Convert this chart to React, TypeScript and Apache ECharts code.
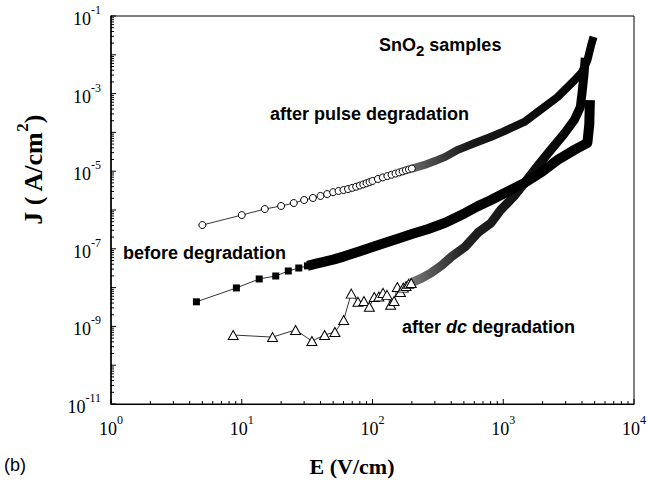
import React, { useEffect, useRef } from 'react';
import * as echarts from 'echarts';

// after pulse degradation (open circles)
const pulseE = [5, 10, 15, 20, 25, 30, 35, 40, 45, 50, 55, 60, 65, 70, 75, 80, 85, 90, 95, 100,
  110, 120, 130, 140, 150, 160, 170, 180, 190, 200, 250, 300, 360, 450, 600, 800, 1000, 1450,
  2000, 2600, 3500, 4000, 4400, 4700, 4900];
const pulseJ = [4.1e-7, 7.4e-7, 1.06e-6, 1.27e-6, 1.51e-6, 1.81e-6, 2.04e-6, 2.3e-6, 2.57e-6, 2.88e-6,
  3.09e-6, 3.27e-6, 3.47e-6, 3.72e-6, 3.98e-6, 4.27e-6, 4.57e-6, 4.9e-6, 5.25e-6, 5.6e-6,
  6.3e-6, 6.9e-6, 7.5e-6, 8.1e-6, 8.7e-6, 9.3e-6, 9.9e-6, 1.05e-5, 1.11e-5, 1.17e-5,
  1.45e-5, 1.82e-5, 2.34e-5, 3.55e-5, 5.25e-5, 7.6e-5, 1.05e-4, 1.86e-4,
  4.2e-4, 8.1e-4, 2.19e-3, 3.55e-3, 7.2e-3, 1.78e-2, 2.9e-2];

// before degradation (filled squares)
const beforeE = [4.5, 9.1, 13.6, 18.2, 22.7, 27.3, 31.8, 36.4, 40.9, 45.5, 50, 60, 80, 111, 160, 200,
  267, 360, 509, 640, 800, 1000, 1456, 2000, 2600, 3500, 4400, 4550, 4600];
const beforeJ = [4.3e-9, 9.8e-9, 1.67e-8, 1.99e-8, 2.68e-8, 3.2e-8, 3.63e-8, 4.07e-8, 4.47e-8, 4.9e-8,
  5.25e-8, 6.3e-8, 8.7e-8, 1.26e-7, 1.86e-7, 2.4e-7, 3.24e-7, 4.7e-7, 8.3e-7, 1.26e-6, 1.78e-6,
  2.63e-6, 5.0e-6, 1.0e-5, 1.95e-5, 3.55e-5, 5.4e-5, 1.6e-4, 6.8e-4];

// after dc degradation (open triangles)
const dcE = [8.6, 17.2, 25.8, 34.4, 43, 51.6, 60.2, 68.8, 77.4, 86, 94.6, 103.2, 111.8, 120.4, 129,
  137.6, 146.2, 154.8, 163.4, 172, 180.6, 189.2, 197.8, 240, 281, 340, 400, 510, 640, 804, 955,
  1200, 1456, 1800, 2300, 2900, 3500, 3885, 4000, 4150, 4237];
const dcJ = [6.0e-10, 5.3e-10, 8.1e-10, 4.2e-10, 6.0e-10, 7.2e-10, 1.46e-9, 7.0e-9, 4.3e-9, 4.5e-9,
  3.2e-9, 5.7e-9, 5.9e-9, 7.3e-9, 6.5e-9, 3.6e-9, 4.5e-9, 1.04e-8, 7.7e-9, 1.0e-8, 1.1e-8, 1.25e-8,
  1.32e-8, 1.78e-8, 2.4e-8, 3.8e-8, 6.2e-8, 1.12e-7, 2.6e-7, 4.6e-7, 1.0e-6, 2.2e-6, 5.0e-6,
  1.26e-5, 3.5e-5, 8.9e-5, 2.1e-4, 4.5e-4, 1.0e-3, 3.2e-3, 8.3e-3];

const xLabelExps = [0, 1, 2, 3, 4];
const yLabelExps = [-11, -9, -7, -5, -3, -1];

const SERIF = '"Liberation Serif", "Times New Roman", serif';
const SANS = '"Liberation Sans", Arial, sans-serif';

function pairs(E: number[], J: number[], lo: number, hi: number) {
  const out: number[][] = [];
  for (let i = 0; i < E.length; i++) if (E[i] >= lo && E[i] <= hi) out.push([E[i], J[i]]);
  return out;
}

const minorX: number[] = [];
for (let d = 0; d < 4; d++) for (let m = 2; m <= 9; m++) minorX.push(m * Math.pow(10, d));
const minorY: number[] = [];
for (let d = -11; d < -1; d++) for (let m = 2; m <= 9; m++) minorY.push(m * Math.pow(10, d));
const majorY: number[] = [];
for (let d = -11; d <= -1; d++) majorY.push(Math.pow(10, d));
const majorX: number[] = [];
for (let d = 0; d <= 4; d++) majorX.push(Math.pow(10, d));

const tickRich = {
  b: { fontFamily: SERIF, fontSize: 18, fill: '#000', color: '#000', lineHeight: 24, verticalAlign: 'bottom' },
  s: { fontFamily: SERIF, fontSize: 12, fill: '#000', color: '#000', lineHeight: 12, verticalAlign: 'top' },
};

function expOf(v: number) {
  return Math.round(Math.log10(v));
}

function grad(c0: string, c1: string) {
  return {
    type: 'linear', x: 0, y: 0, x2: 1, y2: 0,
    colorStops: [{ offset: 0, color: c0 }, { offset: 0.3, color: c1 }, { offset: 1, color: '#000' }],
  };
}

export default function App() {
  const ref = useRef<HTMLDivElement>(null);
  useEffect(() => {
    if (!ref.current) return;
    const chart = echarts.init(ref.current, null, { renderer: 'svg' });
    const tickSeries = (vals: number[], axis: 'x' | 'y', len: number) => ({
      type: 'custom',
      silent: true,
      z: 10,
      clip: false,
      data: vals.map((v) => (axis === 'x' ? [v, 1e-11] : [1, v])),
      encode: { x: 0, y: 1 },
      renderItem: (_p: any, api: any) => {
        const p = api.coord([api.value(0), api.value(1)]);
        return {
          type: 'line',
          shape: axis === 'x'
            ? { x1: p[0], y1: p[1], x2: p[0], y2: p[1] - len }
            : { x1: p[0], y1: p[1], x2: p[0] + len, y2: p[1] },
          style: { stroke: '#000', lineWidth: 1 },
        };
      },
    });
    const yLabelSeries = {
      type: 'custom',
      silent: true,
      z: 10,
      clip: false,
      data: yLabelExps.map((e) => [1, Math.pow(10, e), e]),
      encode: { x: 0, y: 1 },
      renderItem: (_p: any, api: any) => {
        const p = api.coord([api.value(0), api.value(1)]);
        return {
          type: 'text',
          x: p[0] - 10,
          y: p[1],
          style: {
            text: `{b|10}{s|${api.value(2)}}`,
            rich: tickRich,
            align: 'right',
            verticalAlign: 'middle',
          },
        };
      },
    };
    chart.setOption({
      animation: false,
      backgroundColor: '#fff',
      grid: { left: 111, right: 12, top: 16, bottom: 81, show: true, borderColor: '#000', borderWidth: 1, backgroundColor: 'transparent' },
      xAxis: {
        type: 'log', logBase: 10, min: 1, max: 10000,
        axisLine: { lineStyle: { color: '#000', width: 1 } },
        axisTick: { show: false },
        splitLine: { show: false },
        axisLabel: {
          margin: 10,
          formatter: (v: number) => {
            const e = expOf(v);
            return xLabelExps.includes(e) ? `{b|10}{s|${e}}` : '';
          },
          rich: tickRich,
        },
      },
      yAxis: {
        type: 'log', logBase: 10, min: 1e-11, max: 1e-1,
        axisLine: { lineStyle: { color: '#000', width: 1.5 } },
        axisTick: { show: false },
        splitLine: { show: false },
        axisLabel: { show: false },
      },
      series: [
        tickSeries(minorX, 'x', 3),
        tickSeries(majorX, 'x', 5),
        tickSeries(minorY, 'y', 3),
        tickSeries(majorY, 'y', 5),
        yLabelSeries,
        {
          type: 'line', silent: true, z: 2, symbol: 'none',
          data: pairs(dcE, dcJ, 197, 1e9),
          lineStyle: { width: 9, color: grad('#777', '#222'), join: 'round', cap: 'butt' },
        },
        {
          type: 'line', silent: true, z: 3, symbol: 'triangle', symbolSize: [10, 9],
          data: pairs(dcE, dcJ, 0, 198),
          itemStyle: { color: '#fff', borderColor: '#000', borderWidth: 1 },
          lineStyle: { width: 0.8, color: '#000' },
        },
        {
          type: 'line', silent: true, z: 2, symbol: 'none',
          data: pairs(beforeE, beforeJ, 31, 1e9),
          lineStyle: { width: 10, color: '#000', join: 'round', cap: 'butt' },
        },
        {
          type: 'line', silent: true, z: 3, symbol: 'rect', symbolSize: 7,
          data: pairs(beforeE, beforeJ, 0, 37),
          itemStyle: { color: '#000', borderColor: '#000', borderWidth: 0 },
          lineStyle: { width: 0.8, color: '#000' },
        },
        {
          type: 'line', silent: true, z: 2, symbol: 'none',
          data: pairs(pulseE, pulseJ, 199, 1e9),
          lineStyle: { width: 8, color: grad('#666', '#1a1a1a'), join: 'round', cap: 'butt' },
        },
        {
          type: 'line', silent: true, z: 3, symbol: 'circle', symbolSize: 7,
          data: pairs(pulseE, pulseJ, 0, 200),
          itemStyle: { color: '#fff', borderColor: '#000', borderWidth: 1 },
          lineStyle: { width: 0.8, color: '#000' },
        },
      ],
      graphic: [
        {
          type: 'text', x: 379, y: 47,
          style: {
            text: '{a|SnO}{b|2}{a| samples}',
            rich: {
              a: { fontFamily: SANS, fontWeight: 'bold', fontSize: 18, lineHeight: 22, verticalAlign: 'top', fill: '#000' },
              b: { fontFamily: SANS, fontWeight: 'bold', fontSize: 15, lineHeight: 18, padding: [8, 0, 0, 0], verticalAlign: 'bottom', fill: '#000' },
            },
            verticalAlign: 'middle', align: 'left',
          },
        },
        {
          type: 'text', x: 270, y: 114,
          style: { text: 'after pulse degradation', font: `bold 18px ${SANS}`, fill: '#000', verticalAlign: 'middle', align: 'left' },
        },
        {
          type: 'text', x: 123, y: 253,
          style: { text: 'before degradation', font: `bold 18px ${SANS}`, fill: '#000', verticalAlign: 'middle', align: 'left' },
        },
        {
          type: 'text', x: 402, y: 327,
          style: {
            text: '{a|after }{i|dc}{a| degradation}',
            rich: {
              a: { fontFamily: SANS, fontWeight: 'bold', fontSize: 18, fill: '#000' },
              i: { fontFamily: SANS, fontWeight: 'bold', fontStyle: 'italic', fontSize: 18, fill: '#000' },
            },
            verticalAlign: 'middle', align: 'left',
          },
        },
        {
          type: 'text', x: 4, y: 465,
          style: { text: '(b)', font: `18px ${SANS}`, fill: '#000', verticalAlign: 'middle', align: 'left' },
        },
        {
          type: 'text', x: 352, y: 466,
          style: { text: 'E (V/cm)', font: `bold 22px ${SERIF}`, fill: '#000', verticalAlign: 'middle', align: 'center' },
        },
        {
          type: 'text', x: 30, y: 170, rotation: Math.PI / 2,
          style: {
            text: '{a|J ( A/cm}{s|2}{a|)}',
            rich: {
              a: { fontFamily: SERIF, fontWeight: 'bold', fontSize: 26, lineHeight: 32, verticalAlign: 'bottom', fill: '#000' },
              s: { fontFamily: SERIF, fontWeight: 'bold', fontSize: 17, lineHeight: 17, verticalAlign: 'top', fill: '#000' },
            },
            verticalAlign: 'middle', align: 'center',
          },
        },
      ],
    });
    return () => chart.dispose();
  }, []);
  return <div ref={ref} style={{ position: 'fixed', left: 0, top: 0, width: 649, height: 485, background: '#fff' }} />;
}
